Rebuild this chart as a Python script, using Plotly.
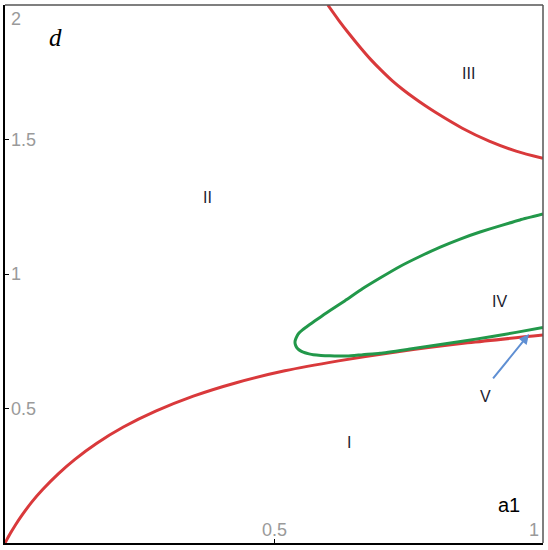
import plotly.graph_objects as go

# Lower red boundary (a1, d)
red_low_a1 = [0.0, 0.01, 0.02, 0.03, 0.05, 0.07, 0.1, 0.13, 0.17, 0.22, 0.28, 0.35,
              0.43, 0.52, 0.62, 0.73, 0.86, 1.0]
red_low_d = [0.0, 0.036, 0.069, 0.099, 0.153, 0.199, 0.259, 0.311, 0.370, 0.431, 0.490, 0.546,
             0.596, 0.640, 0.677, 0.711, 0.744, 0.773]

# Upper red boundary
red_up_a1 = [0.60, 0.62, 0.64, 0.66, 0.68, 0.70, 0.72, 0.74, 0.76, 0.78, 0.80, 0.85, 0.90, 0.95, 1.0]
red_up_d = [2.0, 1.944, 1.892, 1.843, 1.797, 1.756, 1.718, 1.685, 1.655, 1.627, 1.601, 1.542, 1.494, 1.457, 1.430]

# Green loop (upper branch from right edge, around the tip, lower branch back to right edge)
green_a1 = [1.0, 0.957, 0.920, 0.883, 0.846, 0.809, 0.771, 0.734, 0.697, 0.665, 0.632,
            0.6041, 0.5929, 0.5818, 0.5706, 0.5608, 0.5530, 0.5465, 0.5424, 0.5400, 0.5390,
            0.5398, 0.5420, 0.5457, 0.5511, 0.5576, 0.5651, 0.5730, 0.5874, 0.6041,
            0.636, 0.665, 0.697, 0.75, 0.80, 0.85, 0.90, 0.95, 1.0]
green_d = [1.223, 1.201, 1.179, 1.156, 1.130, 1.100, 1.065, 1.028, 0.985, 0.946, 0.901,
           0.8643, 0.8491, 0.8338, 0.8182, 0.8041, 0.7926, 0.7807, 0.7677, 0.7565, 0.7472,
           0.7368, 0.7275, 0.7193, 0.7126, 0.7071, 0.7030, 0.7000, 0.6974, 0.6959,
           0.695, 0.700, 0.705, 0.720, 0.735, 0.750, 0.766, 0.783, 0.801]

# Region labels
region_text = ["I", "II", "III", "IV", "V"]
region_a1 = [0.639, 0.377, 0.861, 0.920, 0.894]
region_d = [0.375, 1.283, 1.747, 0.897, 0.546]

# Arrow (tail -> tip)
arrow_tail = (0.905, 0.606)
arrow_tip = (0.974, 0.777)

# Tick values / labels
x_tick_vals = [0.5, 1.0]
x_tick_text = ["0.5", "1"]
y_tick_vals = [0.5, 1.0, 1.5, 2.0]
y_tick_text = ["0.5", "1", "1.5", "2"]

RED = "#d9393b"
GREEN = "#22984a"
GREY = "#9a9a9a"

fig = go.Figure()
fig.add_trace(go.Scatter(x=red_low_a1, y=red_low_d, mode="lines",
                         line=dict(color=RED, width=3, shape="spline", smoothing=0.8),
                         hoverinfo="skip", showlegend=False))
fig.add_trace(go.Scatter(x=red_up_a1, y=red_up_d, mode="lines",
                         line=dict(color=RED, width=3, shape="spline", smoothing=0.8),
                         hoverinfo="skip", showlegend=False))
fig.add_trace(go.Scatter(x=green_a1, y=green_d, mode="lines",
                         line=dict(color=GREEN, width=3, shape="spline", smoothing=0.5),
                         hoverinfo="skip", showlegend=False))

annotations = []
for t, xa, yd in zip(region_text, region_a1, region_d):
    annotations.append(dict(x=xa, y=yd, text=t, showarrow=False,
                            font=dict(family="Liberation Sans, Arial", size=16, color="#222230")))

annotations.append(dict(x=arrow_tip[0], y=arrow_tip[1], ax=arrow_tail[0], ay=arrow_tail[1],
                        axref="x", ayref="y", xref="x", yref="y", text="", showarrow=True,
                        arrowhead=2, arrowsize=1, arrowwidth=2, arrowcolor="#5f8fd3"))

# Axis labels
annotations.append(dict(x=0.093, y=1.881, text="<i>d</i>", showarrow=False,
                        font=dict(family="Liberation Serif, Times New Roman", size=25, color="black")))
annotations.append(dict(x=0.937, y=0.141, text="a1", showarrow=False,
                        font=dict(family="Liberation Sans, Arial", size=20, color="black")))

# Tick labels inside the frame
x_label_pos = [0.5, 0.983]
for v, t, xp in zip(x_tick_vals, x_tick_text, x_label_pos):
    annotations.append(dict(x=xp, y=0.048, text=t, showarrow=False,
                            font=dict(family="Liberation Sans, Arial", size=18, color=GREY)))
y_label_pos = [0.5, 1.0, 1.5, 1.948]
for v, t, yp in zip(y_tick_vals, y_tick_text, y_label_pos):
    annotations.append(dict(x=0.008, y=yp, text=t, showarrow=False, xanchor="left",
                            font=dict(family="Liberation Sans, Arial", size=18, color=GREY)))

fig.update_layout(
    width=548, height=550,
    margin=dict(l=5, r=5, t=5, b=7),
    paper_bgcolor="white", plot_bgcolor="white",
    annotations=annotations,
    xaxis=dict(range=[0, 1], showgrid=False, zeroline=False, showline=True,
               linecolor="black", linewidth=2, ticks="inside", ticklen=4,
               tickcolor="black", tickvals=[0.5], showticklabels=False),
    yaxis=dict(range=[0, 2], showgrid=False, zeroline=False, showline=True,
               linecolor="black", linewidth=2, ticks="inside", ticklen=4,
               tickcolor="black", tickvals=[0.5, 1.0, 1.5], showticklabels=False),
    shapes=[
        dict(type="line", xref="paper", yref="paper", x0=0, x1=1, y0=1, y1=1,
             line=dict(color="#555555", width=1.5)),
        dict(type="line", xref="paper", yref="paper", x0=1, x1=1, y0=0, y1=1,
             line=dict(color="#555555", width=1.5)),
    ],
)

fig.write_html("out.html", config={"displayModeBar": False},
               post_script="document.body.style.margin='0px';document.body.style.overflow='hidden';")
